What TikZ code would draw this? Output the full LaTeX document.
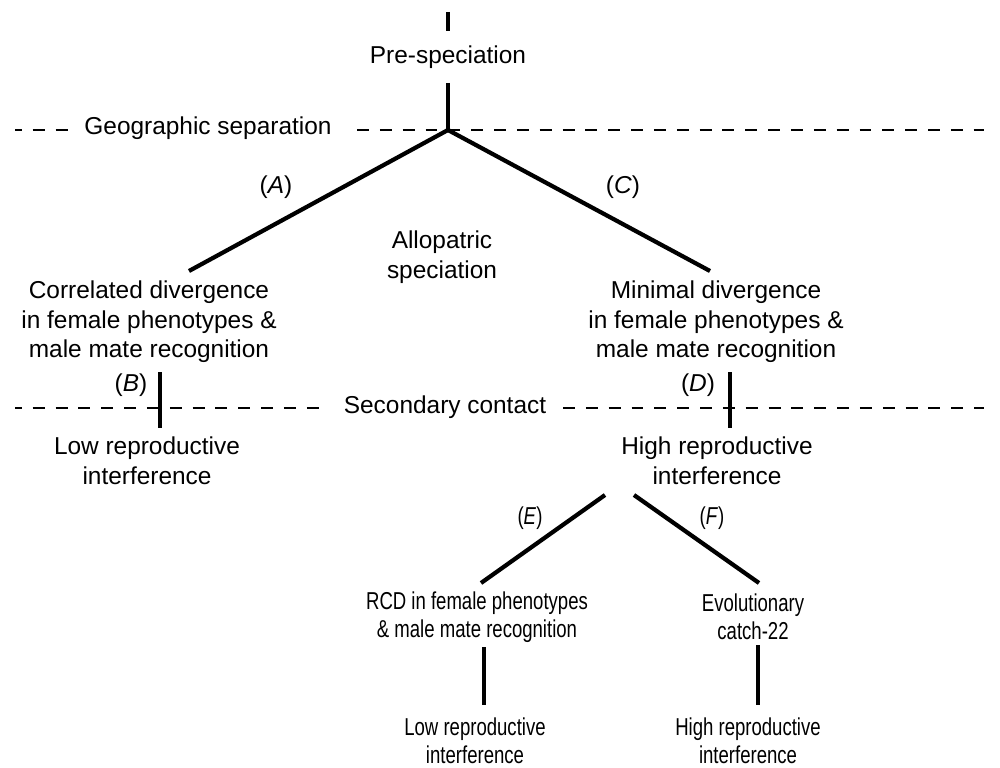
\documentclass[tikz,border=0pt]{standalone}
\usepackage{fontspec}
\setmainfont{Liberation Sans}
\newfontfamily\narrowfont[FakeStretch=0.76]{Liberation Sans}
\begin{document}
\begin{tikzpicture}[x=0.02cm,y=-0.02cm,
  txt/.style={align=center,inner sep=0pt,font=\fontsize{13.9}{16.8}\selectfont},
  ntxt/.style={align=center,inner sep=0pt,font=\narrowfont\fontsize{13.9}{16}\selectfont},
  thick line/.style={line width=2.8pt,line cap=butt},
  diag line/.style={line width=2.4pt,line cap=butt},
  sep line/.style={line width=1.1pt,dash pattern=on 6.8pt off 6.2pt},
  sep left/.style={sep line,dash phase=2.9pt}]
\useasboundingbox (0,0) rectangle (1000,767);
% text nodes
\node[txt] (pre) at (448,57) {Pre-speciation};
\node[txt] (geo) at (208,128) {Geographic separation};
\node[txt] (A) at (276,187) {(\textit{A})};
\node[txt] (C) at (623,187) {(\textit{C})};
\node[txt] (allo) at (442,257) {Allopatric\\speciation};
\node[txt] (corr) at (149,322) {Correlated divergence\\in female phenotypes \&\\male mate recognition};
\node[txt] (mini) at (716,322) {Minimal divergence\\in female phenotypes \&\\male mate recognition};
\node[txt] (B) at (131,385) {(\textit{B})};
\node[txt] (D) at (698,385) {(\textit{D})};
\node[txt] (sec) at (445,407) {Secondary contact};
\node[txt] (lowA) at (147,461) {Low reproductive\\interference};
\node[txt] (highA) at (717,461) {High reproductive\\interference};
\node[ntxt] (E) at (530,518) {(\textit{E})};
\node[ntxt] (F) at (712,518) {(\textit{F})};
\node[ntxt] (rcd) at (477,617) {RCD in female phenotypes\\\& male mate recognition};
\node[ntxt] (evo) at (753,617) {Evolutionary\\catch-22};
\node[ntxt] (lowB) at (475,741) {Low reproductive\\interference};
\node[ntxt] (highB) at (748,741) {High reproductive\\interference};
% coordinates
\coordinate (t0) at (448,12);
\coordinate (t1) at (448,31);
\coordinate (t2) at (448,83);
\coordinate (br) at (448,130);
\coordinate (lA) at (189,271);
\coordinate (rC) at (710,271);
\coordinate (b0) at (160,372);
\coordinate (b1) at (160,428);
\coordinate (d0) at (730,372);
\coordinate (d1) at (730,428);
\coordinate (e0) at (605,495);
\coordinate (e1) at (481,583);
\coordinate (f0) at (634,495);
\coordinate (f1) at (759,583);
\coordinate (g0) at (484,647);
\coordinate (g1) at (484,705);
\coordinate (h0) at (758,645);
\coordinate (h1) at (758,705);
\coordinate (gl0) at (15,130);
\coordinate (gl1) at (72,130);
\coordinate (gr0) at (357,130);
\coordinate (gr1) at (984,130);
\coordinate (sl0) at (15,408);
\coordinate (sl1) at (320,408);
\coordinate (sr0) at (563,408);
\coordinate (sr1) at (984,408);
% separator lines
\draw[sep left] (gl0) -- (gl1);
\draw[sep line] (gr0) -- (gr1);
\draw[sep left] (sl0) -- (sl1);
\draw[sep line] (sr0) -- (sr1);
% tree
\draw[thick line] (t0) -- (t1);
\draw[thick line] (t2) -- (br);
\draw[diag line] (br) -- (lA);
\draw[diag line] (br) -- (rC);
\draw[thick line] (b0) -- (b1);
\draw[thick line] (d0) -- (d1);
\draw[diag line] (e0) -- (e1);
\draw[diag line] (f0) -- (f1);
\draw[thick line] (g0) -- (g1);
\draw[thick line] (h0) -- (h1);
\end{tikzpicture}
\end{document}
